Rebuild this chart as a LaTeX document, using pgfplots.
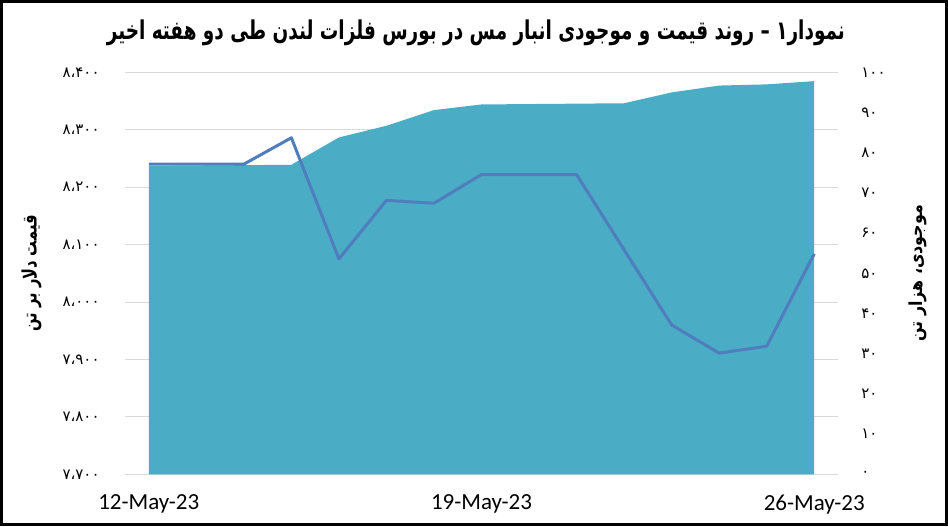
\documentclass[border=0pt]{standalone}
\usepackage{fontspec}
\setmainfont{Carlito}
\newfontfamily\fa[Script=Arabic]{DejaVu Sans}
\usepackage{graphicx}
\usepackage{pgfplots}
\usepackage{pgfplotstable}
\pgfplotsset{compat=1.18}
\TeXXeTstate=1

\definecolor{stockfill}{RGB}{75,172,198}
\definecolor{priceline}{RGB}{79,125,190}
\definecolor{gridgray}{RGB}{217,217,217}

% day index (0 = 12 May 2023), price in USD/t, stock in thousand t
\pgfplotstableread{
day price stock
0  8240 76.7
1  8240 76.8
2  8240 76.9
3  8286 77.0
4  8075 83.8
5  8177 86.7
6  8172 90.6
7  8222 92.0
8  8222 92.1
9  8222 92.2
10 8091 92.3
11 7960 95.0
12 7911 96.7
13 7923 97.0
14 8084 97.8
}\copper

\pgfplotsset{
  base/.style={
    scale only axis,
    width=356.5pt, height=201pt,
    xmin=-0.5, xmax=14.5,
    axis line style={draw=none},
    major tick length=0pt,
    clip=false,
  },
}

\begin{document}
\begin{tikzpicture}
% left axis: grid, ticks, labels
\begin{axis}[base,
    ymin=7700, ymax=8400,
    ytick={7700,7800,...,8400},
    yticklabels={۷،۷۰۰,۷،۸۰۰,۷،۹۰۰,۸،۰۰۰,۸،۱۰۰,۸،۲۰۰,۸،۳۰۰,۸،۴۰۰},
    yticklabel style={font=\fa\fontsize{7.5}{8}\selectfont, anchor=east, inner sep=0pt, xshift=-12.5pt},
    ymajorgrids,
    grid style={gridgray, line width=0.5pt},
    xtick={0,7,14},
    xticklabels={12-May-23,19-May-23,26-May-23},
    xticklabel style={font=\fontsize{11.5}{12}\selectfont, anchor=center, inner sep=0pt, yshift=-15pt},
    title={\resizebox*{369pt}{13pt}{\fa\bfseries\beginR نمودار۱ – روند قیمت و موجودی انبار مس در بورس فلزات لندن طی دو هفته اخیر\endR}},
    title style={at={(rel axis cs:0.492,1.068)}, anchor=center, inner sep=0pt},
    ylabel={\resizebox*{58pt}{10pt}{\fa\bfseries\beginR قیمت دلار بر تن\endR}},
    every axis y label/.style={at={(rel axis cs:-0.131,0.5)}, rotate=90, anchor=center, inner sep=0pt},
  ]
  \addplot[draw=none, forget plot] table[x=day, y=price] {\copper};
\end{axis}
% right axis: stock area
\begin{axis}[base,
    ymin=0, ymax=100,
    axis y line*=right,
    axis x line=none,
    ytick={0,10,...,100},
    yticklabels={۰,۱۰,۲۰,۳۰,۴۰,۵۰,۶۰,۷۰,۸۰,۹۰,۱۰۰},
    yticklabel style={font=\fa\fontsize{7.5}{8}\selectfont, anchor=west, inner sep=0pt, xshift=11.5pt},
    ylabel={\resizebox*{68.5pt}{9pt}{\fa\bfseries\beginR موجودی، هزار تن\endR}},
    every axis y label/.style={at={(rel axis cs:1.112,0.5)}, rotate=90, anchor=center, inner sep=0pt},
  ]
  \addplot[draw=none, fill=stockfill] table[x=day, y=stock] {\copper} \closedcycle;
\end{axis}
% left axis again: price line on top
\begin{axis}[base,
    ymin=7700, ymax=8400,
    hide axis,
  ]
  \addplot[priceline, line width=1.5pt, line join=round] table[x=day, y=price] {\copper};
\end{axis}
\draw[line width=1.5pt] (-61.75pt,-25.1pt) rectangle (410.75pt,236.4pt);
\end{tikzpicture}
\end{document}
